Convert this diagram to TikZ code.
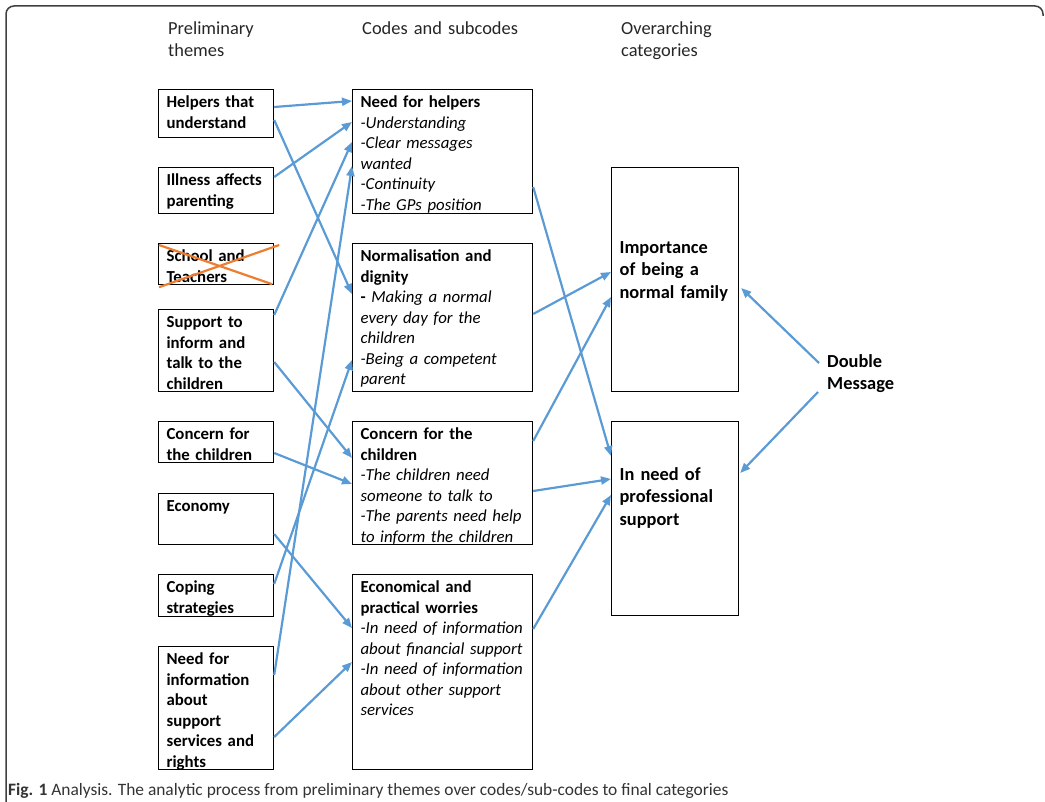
\documentclass[tikz,border=0pt]{standalone}
\usepackage{fontspec}
\setmainfont{Carlito}
\usetikzlibrary{arrows.meta}
\definecolor{linkblue}{HTML}{5B9BD5}
\definecolor{crossorange}{HTML}{ED7D31}

\begin{document}
\begin{tikzpicture}[
        x=1pt, y=-1pt, >={Triangle[length=10pt,width=8pt]},
        box/.style={draw, line width=1.2pt, anchor=north west, align=left,
          inner xsep=8pt, inner ysep=6pt, text height=12pt,
          font=\fontsize{16.8}{20.5}\selectfont\bfseries},
        theme/.style={box, text width=99pt},
        code/.style={box, text width=164pt},
        category/.style={box, text width=111pt, font=\fontsize{18.4}{22.5}\selectfont\bfseries},
        head/.style={anchor=north west, align=left, inner sep=0pt, text height=13pt,
          text width=170pt, text=black!85, font=\fontsize{18.4}{22}\selectfont},
        link/.style={->, draw=linkblue, line width=2.2pt}
        ]
        \useasboundingbox (0,0) rectangle (1045,802);
        \draw[black!75, line width=1.5pt, rounded corners=8pt] (6,802) -- (6,6) -- (1043,6) -- (1043,16);

        % column heads
        \node[head] (h_themes)     at (168,21) {Preliminary\\ themes};
        \node[head] (h_codes)      at (362,21) {Codes and subcodes};
        \node[head] (h_categories) at (621,21) {Overarching\\ categories};

        % preliminary themes
        \node[theme, text depth=24pt] (th_helpers) at (158,89)  {Helpers that\\ understand};
        \node[theme, text depth=22pt] (th_illness) at (158,167) {Illness affects\\ parenting};
        \node[theme, text depth=17pt] (th_school)  at (158,243) {School and\\ Teachers};
        \node[theme, text depth=58pt] (th_inform)  at (158,309) {Support to\\ inform and\\ talk to the\\ children};
        \node[theme, text depth=17pt] (th_concern) at (158,421) {Concern for\\ the children};
        \node[theme, text depth=27pt] (th_economy) at (158,493) {Economy};
        \node[theme, text depth=18pt] (th_coping)  at (158,574) {Coping\\ strategies};
        \node[theme, text depth=99pt] (th_info)    at (158,646) {Need for\\ information\\ about\\ support\\ services and\\ rights};

        \draw[crossorange, line width=2.2pt] ([shift={(1pt,-2pt)}]th_school.north west) -- ([shift={(-2pt,1pt)}]th_school.south east);
        \draw[crossorange, line width=2.2pt] ([shift={(1pt,-2pt)}]th_school.south west) -- ([shift={(5pt,-2pt)}]th_school.north east);

        % codes and subcodes
        \node[code, text depth=100pt] (cd_helpers) at (352,89)  {Need for helpers\\ \mdseries\itshape -Understanding\\ -Clear messages\\ wanted\\ -Continuity\\ -The GPs position};
        \node[code, text depth=124pt] (cd_normal)  at (352,243) {Normalisation and\\ dignity\\ - {\mdseries\itshape Making a normal}\\ \mdseries\itshape every day for the\\ children\\ -Being a competent\\ parent};
        \node[code, text depth=99pt]  (cd_concern) at (352,421) {Concern for the\\ children\\ \mdseries\itshape -The children need\\ someone to talk to\\ -The parents need help\\ to inform the children};
        \node[code, text depth=171pt] (cd_worries) at (352,574) {Economical and\\ practical worries\\ \mdseries\itshape -In need of information\\ about financial support\\ -In need of information\\ about other support\\ services};

        % overarching categories
        \node[category, text height=79.5pt, text depth=132.5pt] (cat_family)  at (611,167) {Importance\\ of being a\\ normal family};
        \node[category, text height=52.5pt, text depth=129.5pt] (cat_support) at (611,421) {In need of\\ professional\\ support};

        \node[anchor=north west, align=left, inner sep=0pt, text height=13pt, text width=80pt,
          font=\fontsize{18.4}{22.5}\selectfont\bfseries] (double) at (827,354) {Double\\ Message};

        % themes -> codes
        \draw[link] ([yshift=-18pt]th_helpers.north east) -- ([yshift=-12pt]cd_helpers.north west);
        \draw[link] ([yshift=-31pt]th_helpers.north east) -- ([yshift=-51pt]cd_normal.north west);
        \draw[link] ([yshift=-10pt]th_illness.north east) -- ([yshift=-33pt]cd_helpers.north west);
        \draw[link] ([yshift=-6pt]th_inform.north east)   -- ([yshift=-53pt]cd_helpers.north west);
        \draw[link] ([yshift=-53pt]th_inform.north east)  -- ([yshift=-37pt]cd_concern.north west);
        \draw[link] ([yshift=-32pt]th_concern.north east) -- ([yshift=-63pt]cd_concern.north west);
        \draw[link] ([yshift=-41pt]th_economy.north east) -- ([yshift=-54pt]cd_worries.north west);
        \draw[link] ([yshift=-10pt]th_coping.north east)  -- ([yshift=-117pt]cd_normal.north west);
        \draw[link] ([yshift=-29pt]th_info.north east)    -- ([yshift=-77pt]cd_helpers.north west);
        \draw[link] ([yshift=-91pt]th_info.north east)    -- ([yshift=-88pt]cd_worries.north west);

        % codes -> categories
        \draw[link] ([yshift=-98pt]cd_helpers.north east) -- ([yshift=-35pt]cat_support.north west);
        \draw[link] ([yshift=-71pt]cd_normal.north east)  -- ([yshift=-105pt]cat_family.north west);
        \draw[link] ([yshift=-20pt]cd_concern.north east) -- ([yshift=-130pt]cat_family.north west);
        \draw[link] ([yshift=-70pt]cd_concern.north east) -- ([yshift=-58pt]cat_support.north west);
        \draw[link] ([yshift=-55pt]cd_worries.north east) -- ([yshift=-74pt]cat_support.north west);

        % double message
        \draw[link] ([shift={(-8pt,-9pt)}]double.north west)  -- ([shift={(2pt,-121pt)}]cat_family.north east);
        \draw[link] ([shift={(-9pt,-38pt)}]double.north west) -- ([shift={(1pt,-52pt)}]cat_support.north east);

        \node[anchor=base west, inner sep=0pt, font=\fontsize{17.4}{20}\selectfont, text=black!80] (caption) at (8,795)
          {\textbf{Fig. 1} Analysis. The analytic process from preliminary themes over codes/sub-codes to final categories};
      \end{tikzpicture}
\end{document}
